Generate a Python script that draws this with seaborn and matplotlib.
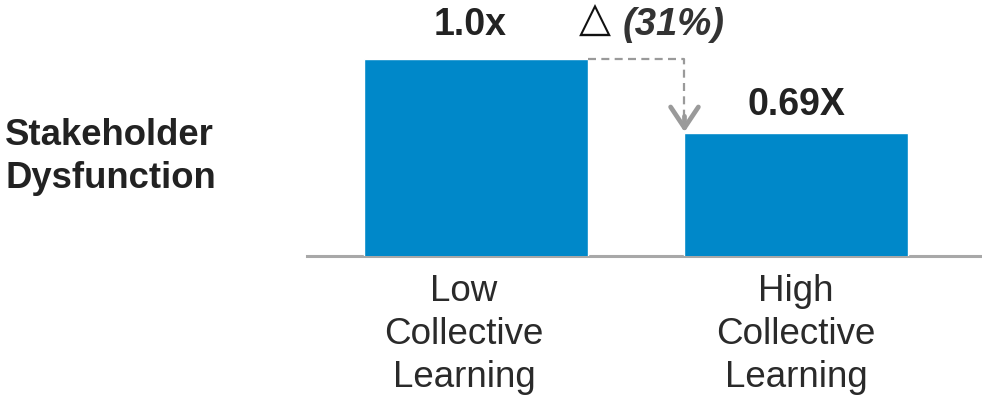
import matplotlib
matplotlib.use("Agg")
import matplotlib.pyplot as plt
import matplotlib.transforms as mtransforms
import seaborn as sns

categories = ["Low\nCollective\nLearning", "High\nCollective\nLearning"]
values = [1.0, 0.69]
value_labels = ["1.0x", "0.69X"]
change_label = "(31%)"
row_label = "Stakeholder\nDysfunction"

BAR_COLOR = "#0088C9"
TEXT_DARK = "#222222"
GRAY = "#9a9a9a"

sns.set_theme(style="white")
plt.rcParams["font.family"] = ["Liberation Sans", "DejaVu Sans"]

fig = plt.figure(figsize=(9.82, 3.97), dpi=100)
ax = fig.add_axes([0.3126, 0.3552, 0.6874, 0.6448])

bar_width = 0.697
sns.barplot(x=list(range(len(values))), y=values, color=BAR_COLOR,
            saturation=1, width=bar_width, ax=ax, zorder=3)

ax.set_xlim(-0.528, 1.581)
ax.set_ylim(0.175, 1.247)

for side in ["top", "right", "left"]:
    ax.spines[side].set_visible(False)
ax.spines["bottom"].set_color("#a8a8a8")
ax.spines["bottom"].set_linewidth(2.2)
ax.spines["bottom"].set_zorder(2)
ax.set_yticks([])
ax.set_ylabel("")
ax.set_xlabel("")

ax.set_xticks(range(len(categories)))
ax.set_xticklabels(categories, fontsize=26.5, color="#2a2a2a", linespacing=1.3)
ax.tick_params(axis="x", length=0, pad=13)
shift = mtransforms.ScaledTranslation(-12 / 100, 0, fig.dpi_scale_trans)
first = ax.get_xticklabels()[0]
first.set_transform(first.get_transform() + shift)

# value labels above the bars
offsets = [(-6, 24), (0, 18)]
for i, (v, lab) in enumerate(zip(values, value_labels)):
    ax.annotate(lab, xy=(i, v), xytext=offsets[i], textcoords="offset pixels",
                ha="center", va="baseline", fontsize=27, fontweight="bold",
                color=TEXT_DARK)

# dashed connector from the first bar's top down to the second bar
x_start = 0 + bar_width / 2
x_turn = 1 - bar_width / 2
ax.plot([x_start, x_turn, x_turn], [values[0], values[0], values[1] + 0.06],
        color=GRAY, lw=1.6, linestyle=(0, (3.6, 2.4)), zorder=4, clip_on=False)
ax.annotate("", xy=(x_turn, values[1] + 0.004), xytext=(x_turn, values[1] + 0.07),
            arrowprops=dict(arrowstyle="->,head_length=0.75,head_width=0.5",
                            lw=3.4, color=GRAY, mutation_scale=20,
                            shrinkA=0, shrinkB=0), zorder=4)

# change annotation: delta sign plus percentage
ax.annotate("\u25B3", xy=(x_turn, values[0]), xytext=(-106, 27),
            textcoords="offset pixels", ha="left", va="baseline",
            fontsize=30, family=["DejaVu Sans"], color="#111111")
ax.annotate(change_label, xy=(x_turn, values[0]), xytext=(-62, 24),
            textcoords="offset pixels", ha="left", va="baseline",
            fontsize=27.5, fontweight="bold", fontstyle="italic", color="#333333")

fig.text(5 / 982, (397 - 157) / 397, row_label, ha="left", va="center",
         fontsize=26.3, fontweight="bold", color=TEXT_DARK, linespacing=1.3)

fig.savefig("out.png", dpi=100)
